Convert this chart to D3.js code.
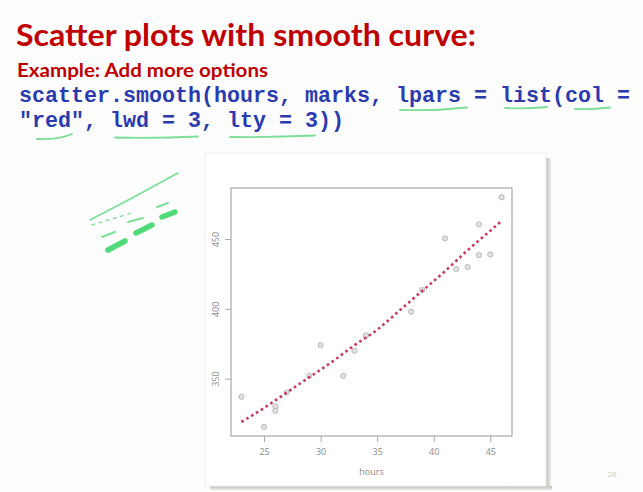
<!DOCTYPE html>
<html>
<head>
<meta charset="utf-8">
<script src="https://cdn.jsdelivr.net/npm/d3@7"></script>
<style>
  html, body { margin: 0; padding: 0; background: #fdfdfd; }
  svg { display: block; }
</style>
</head>
<body>
<svg id="slide" width="643" height="492"></svg>
<script>
// Observations: hours studied and marks obtained
const hours = [23, 25, 26, 26, 27, 29, 30, 32, 33, 34, 38, 39, 41, 42, 43, 44, 44, 45, 46];
const marks = [337, 315.5, 330, 327, 340, 352, 374, 352, 370, 381, 398, 413.5, 450.5, 428.5, 430, 460.5, 438.5, 439, 480];

// Fitted smooth (loess) curve
const smoothHours = [23, 25, 27, 29, 31, 33, 35, 37, 39, 41, 43, 45, 46];
const smoothMarks = [319, 329, 340, 351, 362, 374, 385, 399, 413, 427, 442, 456, 463];

const xTicks = [25, 30, 35, 40, 45];
const yTicks = [350, 400, 450];

const title = "Scatter plots with smooth curve:";
const subtitle = "Example: Add more options";
const codeLines = ["scatter.smooth(hours, marks, lpars = list(col =", "\"red\", lwd = 3, lty = 3))"];

const svg = d3.select("#slide");

// ---- slide text ----
svg.append("text")
  .attr("x", 16).attr("y", 46)
  .attr("font-family", "Lato, 'Open Sans', sans-serif")
  .attr("font-weight", 700).attr("font-size", 30)
  .attr("fill", "#c00000")
  .attr("textLength", 460).attr("lengthAdjust", "spacingAndGlyphs")
  .text(title);

svg.append("text")
  .attr("x", 17).attr("y", 77)
  .attr("font-family", "Lato, 'Open Sans', sans-serif")
  .attr("font-weight", 700).attr("font-size", 18)
  .attr("fill", "#c00000")
  .attr("textLength", 251).attr("lengthAdjust", "spacingAndGlyphs")
  .text(subtitle);

const charW = 13.0;
svg.selectAll("text.code").data(codeLines).join("text")
  .attr("class", "code")
  .attr("x", 19).attr("y", (d, i) => 102 + i * 25)
  .attr("font-family", "'Liberation Mono', 'DejaVu Sans Mono', monospace")
  .attr("font-weight", 700).attr("font-size", 21.7)
  .attr("fill", "#2a3bb0")
  .attr("textLength", d => d.length * charW).attr("lengthAdjust", "spacingAndGlyphs")
  .attr("xml:space", "preserve")
  .text(d => d);

// ---- hand-drawn pen annotations ----
const pen = svg.append("g").attr("fill", "none").attr("stroke", "#6fdc8e")
  .attr("stroke-linecap", "round").attr("opacity", 0.9);
const strokes = [
  "M400,110 Q435,111 467,107.5",
  "M505,108 Q527,109 547,107",
  "M575,109 Q593,109.5 610,107.5",
  "M37,139 Q58,140 72,134",
  "M115,137.5 Q156,138.5 198,136.5",
  "M230,137 Q272,137.5 315,135.5"
];
pen.selectAll("path.ul").data(strokes).join("path")
  .attr("class", "ul").attr("d", d => d).attr("stroke-width", 1.8);

// left-margin doodles of the line styles
pen.append("path").attr("d", "M90,220 Q135,197 178,173").attr("stroke-width", 1.6);
pen.append("path").attr("d", "M92,225 L135,212").attr("stroke-width", 1.4)
  .attr("stroke-dasharray", "2.5,5");
[[102, 237, 115, 232], [128, 222, 143, 218], [157, 207, 168, 203]].forEach(s =>
  pen.append("line").attr("x1", s[0]).attr("y1", s[1]).attr("x2", s[2]).attr("y2", s[3])
    .attr("stroke-width", 2));
[[108, 250, 125, 241], [136, 233, 152, 225], [162, 217, 175, 212]].forEach(s =>
  pen.append("line").attr("x1", s[0]).attr("y1", s[1]).attr("x2", s[2]).attr("y2", s[3])
    .attr("stroke-width", 5.5).attr("stroke", "#3fd86a"));

// ---- plot panel with drop shadow ----
const defs = svg.append("defs");
const gr = defs.append("linearGradient").attr("id", "shR");
gr.append("stop").attr("offset", "0%").attr("stop-color", "#b9bcb4");
gr.append("stop").attr("offset", "100%").attr("stop-color", "#fdfdfd");
const gb = defs.append("linearGradient").attr("id", "shB").attr("x1", 0).attr("y1", 0).attr("x2", 0).attr("y2", 1);
gb.append("stop").attr("offset", "0%").attr("stop-color", "#b9bcb4");
gb.append("stop").attr("offset", "100%").attr("stop-color", "#fdfdfd");

svg.append("rect").attr("x", 546).attr("y", 158).attr("width", 6).attr("height", 333).attr("fill", "url(#shR)");
svg.append("rect").attr("x", 210).attr("y", 486).attr("width", 342).attr("height", 5).attr("fill", "url(#shB)");
svg.append("rect").attr("x", 205).attr("y", 153).attr("width", 341).attr("height", 333)
  .attr("fill", "#ffffff").attr("stroke", "#f0f0f0");

// ---- scatter.smooth plot ----
const box = { left: 231, right: 512, top: 188, bottom: 436 };
const pad = (ext) => { const d = (ext[1] - ext[0]) * 0.04; return [ext[0] - d, ext[1] + d]; };
const x = d3.scaleLinear().domain(pad(d3.extent(hours))).range([box.left, box.right]);
const y = d3.scaleLinear().domain(pad(d3.extent(marks))).range([box.bottom, box.top]);

const plot = svg.append("g");

const xAxis = plot.append("g").attr("transform", `translate(0,${box.bottom})`)
  .call(d3.axisBottom(x).tickValues(xTicks).tickSize(6).tickPadding(7));
const yAxis = plot.append("g").attr("transform", `translate(${box.left},0)`)
  .call(d3.axisLeft(y).tickValues(yTicks).tickSize(6).tickPadding(7));
[xAxis, yAxis].forEach(a => {
  a.select(".domain").remove();
  a.selectAll("line").attr("stroke", "#a8a8a8");
  a.selectAll("text").attr("fill", "#8a8a8a").attr("font-size", 9)
    .attr("font-family", "'Open Sans', 'DejaVu Sans', sans-serif");
});
yAxis.selectAll(".tick text")
  .attr("text-anchor", "middle").attr("dy", 0)
  .attr("x", 0).attr("y", 0)
  .attr("transform", "translate(-12,0) rotate(-90)");

plot.append("rect")
  .attr("x", box.left).attr("y", box.top)
  .attr("width", box.right - box.left).attr("height", box.bottom - box.top)
  .attr("fill", "none").attr("stroke", "#a9a9a9").attr("stroke-width", 1.2);

plot.append("text")
  .attr("x", (box.left + box.right) / 2).attr("y", 475)
  .attr("text-anchor", "middle")
  .attr("font-family", "'Open Sans', 'DejaVu Sans', sans-serif")
  .attr("font-size", 9).attr("fill", "#8a8a8a")
  .text("hours");

plot.append("g").selectAll("circle").data(hours).join("circle")
  .attr("cx", d => x(d))
  .attr("cy", (d, i) => y(marks[i]))
  .attr("r", 2.6)
  .attr("fill", "#e2e2e2").attr("stroke", "#b3b3b3").attr("stroke-width", 0.9);

const line = d3.line().x(d => x(d[0])).y(d => y(d[1])).curve(d3.curveMonotoneX);
plot.append("path")
  .datum(smoothHours.map((h, i) => [h, smoothMarks[i]]))
  .attr("d", line)
  .attr("fill", "none")
  .attr("stroke", "#c93a5c")
  .attr("stroke-width", 2.6)
  .attr("stroke-dasharray", "2.6,3.1");

// slide number
svg.append("text")
  .attr("x", 612).attr("y", 477).attr("text-anchor", "middle")
  .attr("font-family", "'Open Sans', sans-serif").attr("font-size", 8)
  .attr("fill", "#c8c8c8").text("28");
</script>
</body>
</html>
